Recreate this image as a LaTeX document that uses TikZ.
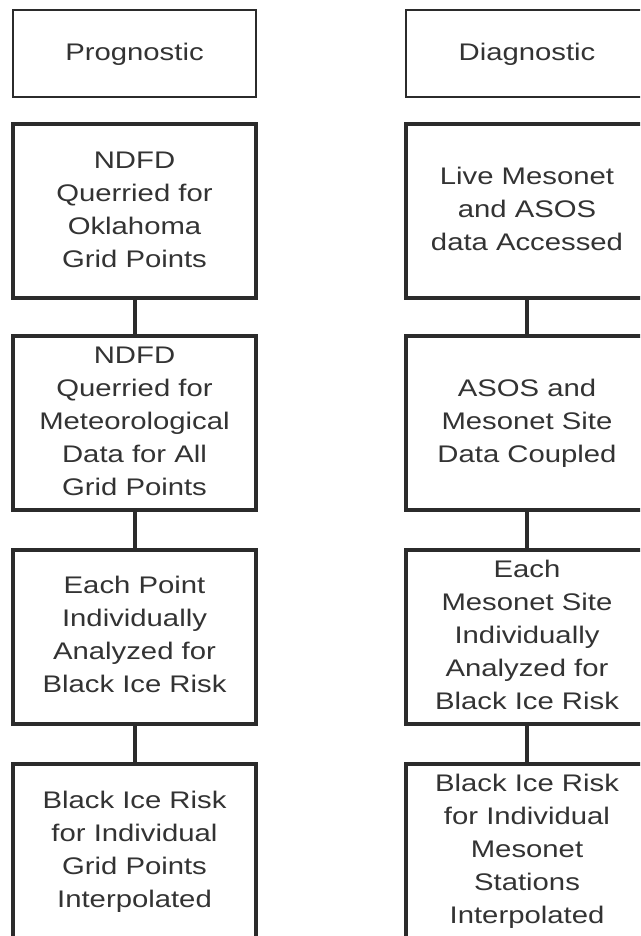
\documentclass[tikz,border=0pt]{standalone}
\usepackage{fontspec}
\setmainfont{Liberation Sans}
\usepackage{graphicx}
\definecolor{ink}{HTML}{333333}
\definecolor{edge}{HTML}{2B2B2B}
% multi-line label, set slightly wide
\newcommand\boxtext[1]{\scalebox{1.22}[1]{\begin{tabular}{@{}c@{}}#1\end{tabular}}}

\begin{document}
\begin{tikzpicture}[x=1pt,y=-1pt,
  stage/.style={draw=edge, line width=4pt, fill=white, minimum width=243pt,
    minimum height=174pt, inner sep=0pt, text=ink,
    font=\fontsize{24}{33}\selectfont},
  header/.style={stage, line width=2pt, minimum height=87pt},
  link/.style={draw=edge, line width=4pt}]
\useasboundingbox (0,0) rectangle (640,936);
\clip (0,0) rectangle (640,936);
\fill[white] (0,0) rectangle (640,936);

% prognostic column
\node[header] (p0) at (134.5,54) {\boxtext{Prognostic}};
\node[stage] (p1) at (134.5,211) {\boxtext{NDFD\\Querried for\\Oklahoma\\Grid Points}};
\node[stage] (p2) at (134.5,422.5) {\boxtext{NDFD\\Querried for\\Meteorological\\Data for All\\Grid Points}};
\node[stage] (p3) at (134.5,636.5) {\boxtext{Each Point\\Individually\\Analyzed for\\Black Ice Risk}};
\node[stage] (p4) at (134.5,851) {\boxtext{Black Ice Risk\\for Individual\\Grid Points\\Interpolated}};

% diagnostic column
\node[header] (d0) at (527,54) {\boxtext{Diagnostic}};
\node[stage] (d1) at (527,211) {\boxtext{Live Mesonet\\and ASOS\\data Accessed}};
\node[stage] (d2) at (527,422.5) {\boxtext{ASOS and\\Mesonet Site\\Data Coupled}};
\node[stage] (d3) at (527,636.5) {\boxtext{Each\\Mesonet Site\\Individually\\Analyzed for\\Black Ice Risk}};
\node[stage] (d4) at (527,851) {\boxtext{Black Ice Risk\\for Individual\\Mesonet\\Stations\\Interpolated}};

% connectors
\draw[link] (p1.south) -- (p2.north);
\draw[link] (p2.south) -- (p3.north);
\draw[link] (p3.south) -- (p4.north);
\draw[link] (d1.south) -- (d2.north);
\draw[link] (d2.south) -- (d3.north);
\draw[link] (d3.south) -- (d4.north);
\end{tikzpicture}
\end{document}
